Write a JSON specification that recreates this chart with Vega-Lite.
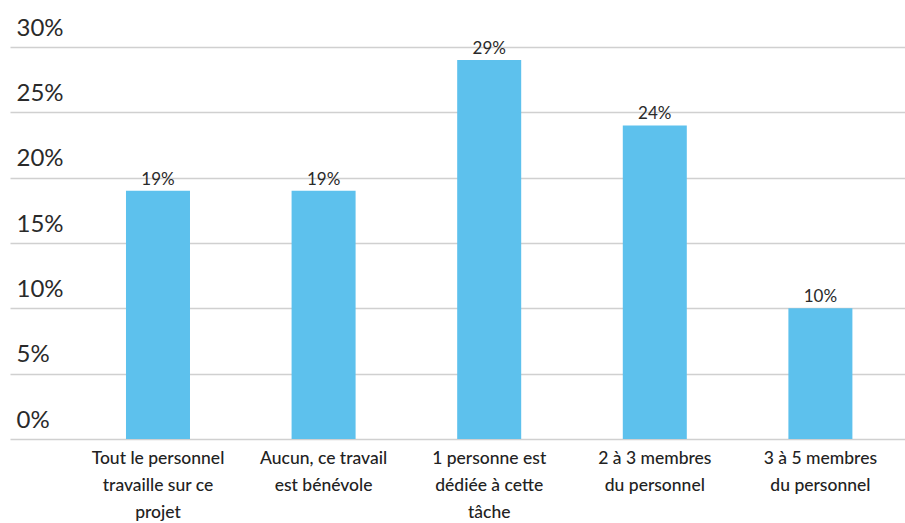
{
  "$schema": "https://vega.github.io/schema/vega-lite/v6.json",
  "autosize": "none",
  "width": 895,
  "height": 392,
  "padding": {"left": 10, "top": 47, "right": 0, "bottom": 84},
  "background": "white",
  "config": {"view": {"stroke": null}, "font": "Lato"},
  "data": {
    "values": [
      {"category": "Tout le personnel travaille sur ce projet", "share": 0.19},
      {"category": "Aucun, ce travail est bénévole", "share": 0.19},
      {"category": "1 personne est dédiée à cette tâche", "share": 0.29},
      {"category": "2 à 3 membres du personnel", "share": 0.24},
      {"category": "3 à 5 membres du personnel", "share": 0.10}
    ]
  },
  "encoding": {
    "x": {
      "field": "category",
      "type": "nominal",
      "sort": null,
      "scale": {"paddingInner": 0.6135, "paddingOuter": 0.509, "align": 0.688},
      "axis": {
        "title": null,
        "domain": false,
        "ticks": false,
        "labelAngle": 0,
        "labelFontSize": 17.5,
        "labelColor": "#222222",
        "labelFont": "Lato",
        "labelFontWeight": 500,
        "labelLineHeight": 27,
        "labelPadding": 10,
        "labelLimit": 300,
        "labelExpr": "datum.label == 'Tout le personnel travaille sur ce projet' ? ['Tout le personnel', 'travaille sur ce', 'projet'] : datum.label == 'Aucun, ce travail est bénévole' ? ['Aucun, ce travail', 'est bénévole'] : datum.label == '1 personne est dédiée à cette tâche' ? ['1 personne est', 'dédiée à cette', 'tâche'] : datum.label == '2 à 3 membres du personnel' ? ['2 à 3 membres', 'du personnel'] : ['3 à 5 membres', 'du personnel']"
      }
    },
    "y": {
      "field": "share",
      "type": "quantitative",
      "scale": {"domain": [0, 0.3], "nice": false},
      "axis": {
        "title": null,
        "format": "%",
        "values": [0, 0.05, 0.1, 0.15, 0.2, 0.25, 0.3],
        "domain": false,
        "ticks": false,
        "grid": true,
        "gridColor": "#d0d0d0",
        "gridWidth": 1.5,
        "labelAlign": "left",
        "labelBaseline": "alphabetic",
        "labelOffset": -12,
        "labelPadding": -6,
        "labelFontSize": 24,
        "labelFontWeight": 400,
        "labelColor": "#2a2a2a",
        "labelOverlap": false,
        "labelFlush": false
      }
    }
  },
  "layer": [
    {"mark": {"type": "bar", "color": "#5DC1ED"}},
    {
      "mark": {"type": "text", "dy": -6, "baseline": "alphabetic", "fontSize": 17, "fontWeight": 400, "color": "#2a2a2a"},
      "encoding": {"text": {"field": "share", "type": "quantitative", "format": ".0%"}}
    }
  ]
}
